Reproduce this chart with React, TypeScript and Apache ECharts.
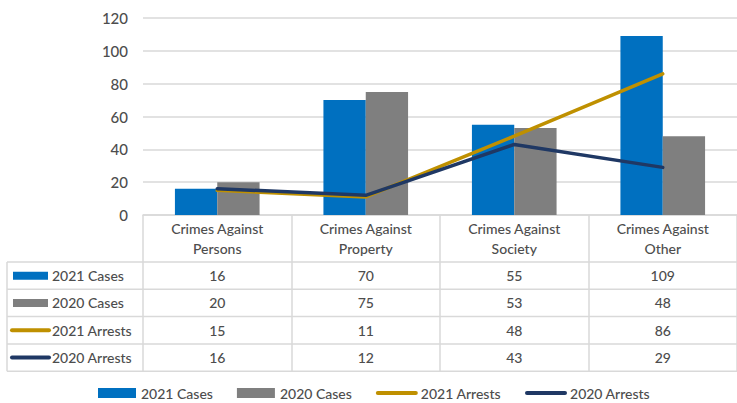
import React, { useEffect, useRef } from "react";
import * as echarts from "echarts";

const categories = [
  "Crimes Against\nPersons",
  "Crimes Against\nProperty",
  "Crimes Against\nSociety",
  "Crimes Against\nOther",
];
const cases2021 = [16, 70, 55, 109];
const cases2020 = [20, 75, 53, 48];
const arrests2021 = [15, 11, 48, 86];
const arrests2020 = [16, 12, 43, 29];
const seriesNames = ["2021 Cases", "2020 Cases", "2021 Arrests", "2020 Arrests"];
const seriesKinds = ["bar", "bar", "line", "line"];
const seriesValues = [cases2021, cases2020, arrests2021, arrests2020];
const seriesColors = ["#0070C0", "#7F7F7F", "#BF9000", "#1F3864"];
const yMin = 0;
const yMax = 120;
const yInterval = 20;

const FONT = "Lato, 'Open Sans', sans-serif";
const TEXT = "#4D4D4D";
const BORDER = "#D9D9D9";

// layout
const GRID_LEFT = 143;
const GRID_TOP = 18;
const AXIS_Y = 215;
const GRID_WIDTH = 603;
const HEADER_H = 47;
const ROW_H = 27.3;
const TABLE_LEFT = 7;
const TABLE_RIGHT = 737;

export default function App() {
  const ref = useRef<HTMLDivElement>(null);

  useEffect(() => {
    if (!ref.current) return;
    const chart = echarts.init(ref.current, null, { renderer: "svg" });
    const rowCenters = seriesNames.map((_, i) => AXIS_Y + HEADER_H + ROW_H * i + ROW_H / 2);
    const tableBottom = AXIS_Y + HEADER_H + ROW_H * seriesNames.length;

    const valueAxes = seriesNames.map((_, i) => ({
      type: "category",
      data: categories,
      position: "bottom",
      offset: rowCenters[i] - AXIS_Y,
      axisLine: { show: false },
      axisTick: { show: false },
      axisLabel: {
        interval: 0,
        margin: 0,
        verticalAlign: "middle",
        fontSize: 14,
        fontWeight: 500,
        fontFamily: FONT,
        color: TEXT,
        formatter: (_v: string, idx: number) => String(seriesValues[i][idx]),
      },
    }));

    const graphics: any[] = [];
    const hys = [AXIS_Y + HEADER_H];
    seriesNames.forEach((_, i) => hys.push(AXIS_Y + HEADER_H + ROW_H * (i + 1)));
    hys.forEach((y) =>
      graphics.push({
        type: "line",
        shape: { x1: TABLE_LEFT, y1: y, x2: TABLE_RIGHT, y2: y },
        style: { stroke: BORDER, lineWidth: 1.5 },
        silent: true,
      })
    );
    graphics.push({
      type: "line",
      shape: { x1: TABLE_LEFT, y1: AXIS_Y + HEADER_H, x2: TABLE_LEFT, y2: tableBottom },
      style: { stroke: BORDER, lineWidth: 1.5 },
    });
    seriesNames.forEach((name, i) => {
      const cy = rowCenters[i];
      if (seriesKinds[i] === "bar") {
        graphics.push({
          type: "rect",
          shape: { x: 13, y: cy - 4, width: 35, height: 8 },
          style: { fill: seriesColors[i] },
        });
      } else {
        graphics.push({
          type: "line",
          shape: { x1: 12, y1: cy, x2: 49, y2: cy },
          style: { stroke: seriesColors[i], lineWidth: 4, lineCap: "round" },
        });
      }
      graphics.push({
        type: "text",
        x: 52,
        y: cy,
        style: {
          text: name,
          fill: TEXT,
          font: `500 14px ${FONT}`,
          textVerticalAlign: "middle",
          verticalAlign: "middle",
        },
      });
    });

    const series: any[] = seriesNames.map((name, i) =>
      seriesKinds[i] === "bar"
        ? {
            name,
            type: "bar",
            data: seriesValues[i],
            xAxisIndex: 0,
            itemStyle: { color: seriesColors[i] },
            barGap: "0%",
            barCategoryGap: "43%",
          }
        : {
            name,
            type: "line",
            data: seriesValues[i],
            xAxisIndex: 0,
            symbol: "none",
            lineStyle: { color: seriesColors[i], width: 3.5, cap: "round" },
            itemStyle: { color: seriesColors[i] },
          }
    );

    chart.setOption({
      animation: false,
      textStyle: { fontFamily: FONT },
      grid: {
        left: GRID_LEFT,
        top: GRID_TOP,
        width: GRID_WIDTH,
        height: AXIS_Y - GRID_TOP,
        containLabel: false,
      },
      legend: {
        left: 93,
        top: 381,
        itemWidth: 38,
        itemHeight: 10,
        itemGap: 24,
        textStyle: { fontSize: 14, fontWeight: 500, color: TEXT, fontFamily: FONT },
        data: seriesNames.map((name, i) =>
          seriesKinds[i] === "bar"
            ? { name, icon: "rect" }
            : {
                name,
                itemStyle: { opacity: 0 },
                lineStyle: { width: 4, cap: "round", color: seriesColors[i] },
              }
        ),
      },
      xAxis: [
        {
          type: "category",
          data: categories,
          axisLine: { show: true, lineStyle: { color: BORDER, width: 1.5 } },
          axisTick: {
            show: true,
            interval: 0,
            alignWithLabel: false,
            length: tableBottom - AXIS_Y,
            lineStyle: { color: BORDER, width: 1.5 },
          },
          axisLabel: {
            interval: 0,
            margin: HEADER_H / 2,
            verticalAlign: "middle",
            lineHeight: 20,
            fontSize: 14,
            fontWeight: 500,
            fontFamily: FONT,
            color: TEXT,
          },
        },
        ...valueAxes,
      ],
      yAxis: {
        type: "value",
        min: yMin,
        max: yMax,
        interval: yInterval,
        axisLine: { show: false },
        axisTick: { show: false },
        axisLabel: { fontSize: 15, fontWeight: 500, color: TEXT, fontFamily: FONT, margin: 15 },
        splitLine: { lineStyle: { color: BORDER, width: 1.5 } },
      },
      series,
      graphic: graphics,
    });
    return () => chart.dispose();
  }, []);

  return (
    <div
      ref={ref}
      style={{ position: "absolute", left: 0, top: 0, width: 737, height: 403 }}
    />
  );
}
